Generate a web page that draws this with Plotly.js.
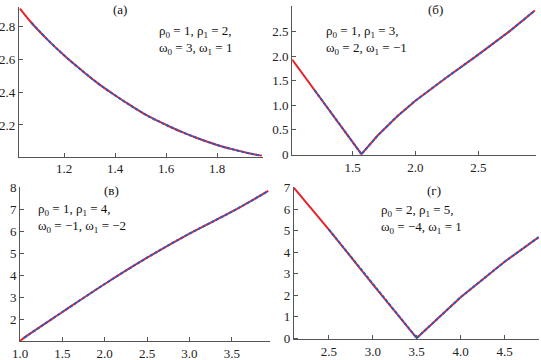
<!DOCTYPE html>
<html>
<head>
<meta charset="utf-8">
<script src="https://cdn.plot.ly/plotly-3.0.1.min.js"></script>
<style>
body{margin:0;padding:0;background:#fff}
#chart{width:541px;height:360px}
</style>
</head>
<body>
<div id="chart"></div>
<script>
// Panel (а)
const xA = [1.027, 1.072, 1.137, 1.203, 1.268, 1.333, 1.398, 1.464, 1.529, 1.601, 1.659, 1.724, 1.80, 1.855, 1.92, 1.975];
const yA = [2.91, 2.824, 2.718, 2.621, 2.535, 2.454, 2.383, 2.316, 2.255, 2.20, 2.159, 2.119, 2.078, 2.054, 2.029, 2.012];
// Panel (б)
const xB = [1.02, 1.2, 1.4, 1.571, 1.7, 1.85, 2.0, 2.25, 2.5, 2.75, 2.95];
const yB = [1.93, 1.30, 0.60, 0.0, 0.38, 0.76, 1.09, 1.57, 2.03, 2.51, 2.93];
// Panel (в)
const xC = [1.0, 1.05, 1.5, 2.0, 2.5, 3.0, 3.5, 3.93];
const yC = [1.0, 1.15, 2.32, 3.6, 4.8, 5.9, 6.9, 7.85];
// Panel (г)
const xD = [2.1, 2.5, 3.0, 3.5, 4.0, 4.5, 4.89];
const yD = [7.0, 5.05, 2.5, 0.0, 1.9, 3.55, 4.7];

const labels = ["(а)", "(б)", "(в)", "(г)"];
const params = [
  "ρ<sub>0</sub> = 1, ρ<sub>1</sub> = 2,<br>ω<sub>0</sub> = 3, ω<sub>1</sub> = 1",
  "ρ<sub>0</sub> = 1, ρ<sub>1</sub> = 3,<br>ω<sub>0</sub> = 2, ω<sub>1</sub> = −1",
  "ρ<sub>0</sub> = 1, ρ<sub>1</sub> = 4,<br>ω<sub>0</sub> = −1, ω<sub>1</sub> = −2",
  "ρ<sub>0</sub> = 2, ρ<sub>1</sub> = 5,<br>ω<sub>0</sub> = −4, ω<sub>1</sub> = 1"
];

const xTicksA = [1.2, 1.4, 1.6, 1.8], xTextA = ["1.2", "1.4", "1.6", "1.8"];
const yTicksA = [2.2, 2.4, 2.6, 2.8], yTextA = ["2.2", "2.4", "2.6", "2.8"];
const xTicksB = [1.5, 2.0, 2.5], xTextB = ["1.5", "2.0", "2.5"];
const yTicksB = [0, 0.5, 1.0, 1.5, 2.0, 2.5, 3.0], yTextB = ["0", "0.5", "1.0", "1.5", "2.0", "2.5", "3.0"];
const xTicksC = [1.0, 1.5, 2.0, 2.5, 3.0, 3.5], xTextC = ["1.0", "1.5", "2.0", "2.5", "3.0", "3.5"];
const yTicksC = [2, 3, 4, 5, 6, 7, 8], yTextC = ["2", "3", "4", "5", "6", "7", "8"];
const xTicksD = [2.5, 3.0, 3.5, 4.0, 4.5], xTextD = ["2.5", "3.0", "3.5", "4.0", "4.5"];
const yTicksD = [0, 1, 2, 3, 4, 5, 6, 7], yTextD = ["0", "1", "2", "3", "4", "5", "6", "7"];

const RED = "#e8212b", BLUE = "#1f5fc8";
const fontFam = "'Liberation Serif', 'DejaVu Serif', serif";

function pair(x, y, xa, ya, smooth) {
  const shape = smooth ? "spline" : "linear";
  return [
    {x: x, y: y, xaxis: xa, yaxis: ya, mode: "lines", type: "scatter",
     line: {color: RED, width: 2, shape: shape}, hoverinfo: "skip"},
    {x: x.slice(1), y: y.slice(1), xaxis: xa, yaxis: ya, mode: "lines", type: "scatter",
     line: {color: BLUE, width: 2, dash: "3px,2px", shape: shape}, hoverinfo: "skip"}
  ];
}

const data = [].concat(
  pair(xA, yA, "x", "y", true),
  pair(xB, yB, "x2", "y2", false),
  pair(xC, yC, "x3", "y3", true),
  pair(xD, yD, "x4", "y4", false)
);

function ax(domain, range, tv, tt, anchor) {
  return {
    domain: domain, range: range, anchor: anchor,
    tickmode: "array", tickvals: tv, ticktext: tt,
    ticks: "inside", ticklen: 4, tickwidth: 1, tickcolor: "#555",
    showline: true, linecolor: "#555", linewidth: 1, mirror: false,
    showgrid: false, zeroline: false,
    tickfont: {family: fontFam, size: 13, color: "#222"}
  };
}

function note(text, px, py, anchor) {
  return {text: text, xref: "paper", yref: "paper", x: px / 541, y: 1 - py / 360,
    showarrow: false, xanchor: anchor, yanchor: "middle", align: "left",
    font: {family: fontFam, size: 13, color: "#111"}};
}

const layout = {
  width: 541, height: 360,
  margin: {l: 0, r: 0, t: 0, b: 0},
  paper_bgcolor: "#fff", plot_bgcolor: "#fff",
  showlegend: false,
  font: {family: fontFam},
  xaxis: ax([0.035, 0.486], [1.023, 1.98], xTicksA, xTextA, "y"),
  yaxis: ax([0.565, 0.981], [2.007, 2.921], yTicksA, yTextA, "x"),
  xaxis2: ax([0.540, 0.991], [1.02, 2.96], xTicksB, xTextB, "y2"),
  yaxis2: ax([0.569, 0.983], [-0.02, 3.02], yTicksB, yTextB, "x2"),
  xaxis3: ax([0.037, 0.499], [1.0, 3.95], xTicksC, xTextC, "y3"),
  yaxis3: ax([0.053, 0.480], [1.0, 8.02], yTicksC, yTextC, "x3"),
  xaxis4: ax([0.543, 0.996], [2.1, 4.89], xTicksD, xTextD, "y4"),
  yaxis4: ax([0.058, 0.480], [-0.05, 7.02], yTicksD, yTextD, "x4"),
  annotations: [
    note(labels[0], 120, 9, "center"),
    note(labels[1], 435, 9, "center"),
    note(labels[2], 111, 190, "center"),
    note(labels[3], 434, 190, "center"),
    note(params[0], 157, 40, "left"),
    note(params[1], 324, 40, "left"),
    note(params[2], 36, 218, "left"),
    note(params[3], 379, 219, "left")
  ]
};

Plotly.newPlot("chart", data, layout, {staticPlot: true, displayModeBar: false}).then(function (gd) {
  gd.querySelectorAll("text").forEach(function (t) {
    t.setAttribute("font-family", "Liberation Serif");
    t.style.setProperty("font-family", "'Liberation Serif', 'DejaVu Serif', serif", "important");
  });
});
</script>
</body>
</html>
